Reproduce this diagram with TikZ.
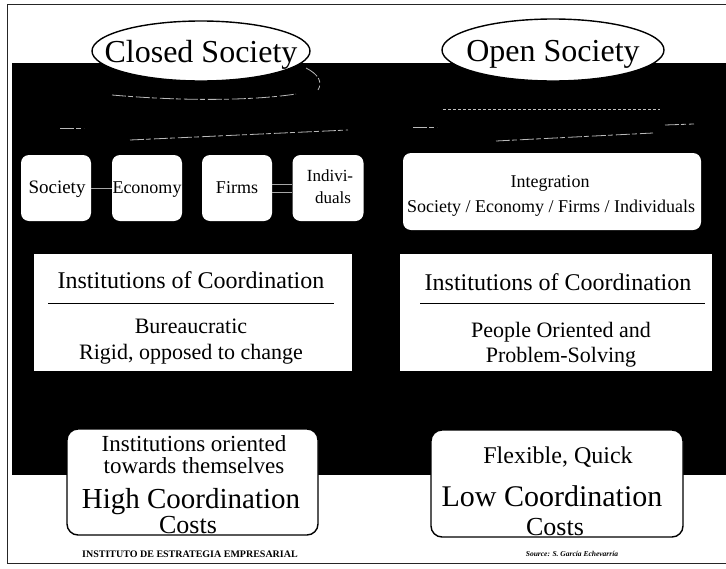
\documentclass[tikz,border=0pt]{standalone}
\usepackage{fontspec}
\setmainfont{Liberation Serif}
\usetikzlibrary{shapes.geometric}
\newcommand{\myfs}[1]{\fontsize{#1}{#1}\selectfont}
\begin{document}
\begin{tikzpicture}[x=1pt,y=-1pt,
  txt/.style={anchor=base, inner sep=0pt, outer sep=0pt},
  oval/.style={ellipse, draw=black, line width=1.4pt, fill=white, inner sep=0pt},
  tagbox/.style={rectangle, rounded corners=8pt, fill=white, inner sep=0pt},
  instbox/.style={rectangle, fill=white, inner sep=0pt},
  costbox/.style={rectangle, rounded corners=11pt, draw=black, line width=1.4pt, fill=white, inner sep=0pt},
  rim/.style={draw=gray!55, line width=0.8pt, dash pattern=on 14pt off 2pt on 5pt off 3pt},
  rimdot/.style={draw=gray!50, line width=0.7pt, dash pattern=on 3pt off 2pt},
  link/.style={draw=gray!70, line width=1pt},
  rulel/.style={draw=black, line width=1pt},
  frameline/.style={draw=black!85, line width=1pt}]
\useasboundingbox (0,0) rectangle (726,568);
% frame and dark panel
\draw[frameline] (726,4) -- (7,4) -- (7,563) -- (726,563);
\fill[black] (12,63) rectangle (726,475);
% faint rim / highlight lines
\draw[rim] (112,95) .. controls (180,101) and (250,101) .. (296,94);
\draw[rim] (306,68) .. controls (318,74) and (323,82) .. (318,90);
\draw[rim] (60,128) -- (84,128);
\draw[rim] (130,140) -- (348,130);
\draw[rimdot] (443,109) -- (660,109);
\draw[rim] (413,127) -- (437,127);
\draw[rim] (665,125) -- (694,124);
\draw[rim] (496,141) -- (653,133);
% titles
\node[oval, minimum width=218pt, minimum height=60pt] (closed) at (201,51) {};
\node[txt, font=\myfs{32}] (closedt) at (201,62) {Closed Society};
\node[oval, minimum width=222pt, minimum height=62pt] (open) at (553,50) {};
\node[txt, font=\myfs{32}] (opent) at (553,61) {Open Society};
% small boxes
\node[tagbox, minimum width=70pt, minimum height=66pt] (soc) at (56,188) {};
\node[tagbox, minimum width=70pt, minimum height=66pt] (eco) at (147,188) {};
\node[tagbox, minimum width=70pt, minimum height=66pt] (firms) at (237,188) {};
\node[tagbox, minimum width=71pt, minimum height=66pt] (indiv) at (328,188) {};
\draw[link] (soc) -- (eco);
\draw[link] ([yshift=4pt]firms.east) -- ([yshift=4pt]indiv.west);
\draw[link] ([yshift=-4pt]firms.east) -- ([yshift=-4pt]indiv.west);
\node[txt, font=\myfs{19}] (soct) at (57,193) {Society};
\node[txt, font=\myfs{18}] (ecot) at (147,193) {Economy};
\node[txt, font=\myfs{18}] (firmst) at (237,193) {Firms};
\node[txt, font=\myfs{17}] (indivt1) at (330,181) {Indivi-};
\node[txt, font=\myfs{17}] (indivt2) at (333,203) {duals};
% integration box
\node[tagbox, minimum width=298pt, minimum height=77pt] (integ) at (552,191.5) {};
\node[txt, font=\myfs{18}] (integt1) at (550,187) {Integration};
\node[txt, font=\myfs{18}] (integt2) at (551,212) {Society / Economy / Firms / Individuals};
% institutions boxes
\node[instbox, minimum width=318pt, minimum height=117pt] (instl) at (193,312.5) {};
\node[txt, font=\myfs{24}] (instlh) at (191,288) {Institutions of Coordination};
\draw[rulel] (48,303) -- (334,303);
\node[txt, font=\myfs{22}] (instl1) at (191,333) {Bureaucratic};
\node[txt, font=\myfs{22}] (instl2) at (191,359) {Rigid, opposed to change};
\node[instbox, minimum width=312pt, minimum height=117pt] (instr) at (556,312.5) {};
\node[txt, font=\myfs{24}] (instrh) at (558,290) {Institutions of Coordination};
\draw[rulel] (420,303) -- (705,303);
\node[txt, font=\myfs{22}] (instr1) at (561,337) {People Oriented and};
\node[txt, font=\myfs{22}] (instr2) at (561,362) {Problem-Solving};
% cost boxes
\node[costbox, minimum width=251pt, minimum height=106pt] (costl) at (192.5,482) {};
\node[txt, font=\myfs{23}] (costl1) at (194,451) {Institutions oriented};
\node[txt, font=\myfs{23}] (costl2) at (194,473) {towards themselves};
\node[txt, font=\myfs{29}] (costl3) at (191,508) {High Coordination};
\node[txt, font=\myfs{26}] (costl4) at (188,533) {Costs};
\node[costbox, minimum width=252pt, minimum height=107pt] (costr) at (557,483.5) {};
\node[txt, font=\myfs{24}] (costr1) at (558,463) {Flexible, Quick};
\node[txt, font=\myfs{30}] (costr2) at (552,506) {Low Coordination};
\node[txt, font=\myfs{26}] (costr3) at (555,535) {Costs};
% footer
\node[txt, font=\myfs{10}\bfseries] (foot1) at (190,557) {INSTITUTO DE ESTRATEGIA EMPRESARIAL};
\node[txt, font=\myfs{7.5}\bfseries\itshape] (foot2) at (572,556) {Source: S. García Echevarría};
\end{tikzpicture}
\end{document}
